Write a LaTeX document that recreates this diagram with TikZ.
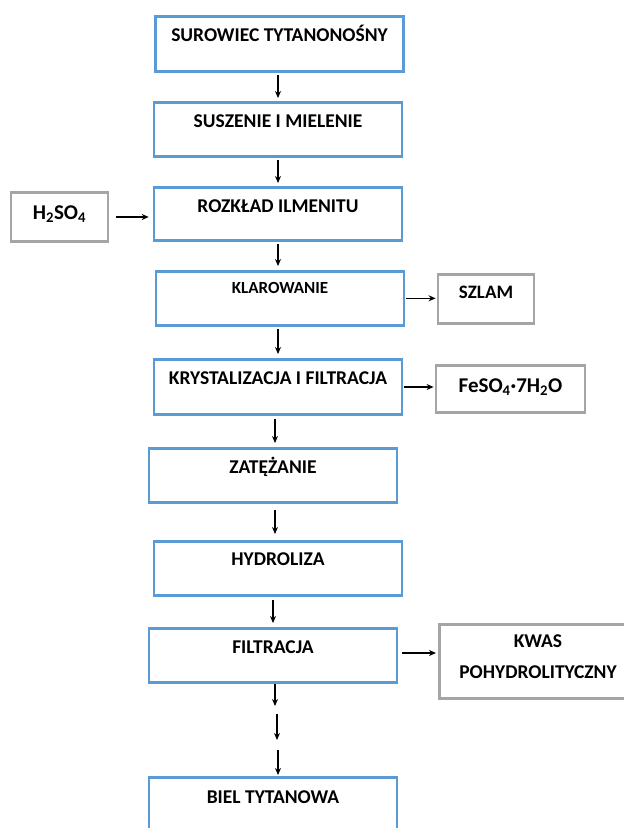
\documentclass[tikz,border=0pt]{standalone}
\usepackage{fontspec}
\setmainfont{Carlito}
\usetikzlibrary{arrows.meta}
\definecolor{boxblue}{RGB}{91,155,213}
\definecolor{boxgray}{RGB}{165,165,165}
\begin{document}
\begin{tikzpicture}[x=1pt,y=-1pt,
  proc/.style={draw=boxblue, line width=2.6pt, inner sep=0pt, align=center,
    minimum width=248pt, font=\fontsize{19.5}{21}\selectfont\bfseries},
  side/.style={draw=boxgray, line width=2.8pt, inner sep=0pt, align=center,
    font=\fontsize{19}{20}\selectfont\bfseries},
  arr/.style={-{Stealth[length=7pt,width=6pt]}, line width=1.6pt, black}]
\clip (0,0) rectangle (624,828);
\fill[white] (0,0) rectangle (624,828);
% process boxes: centre x, top y; text height/depth set baseline
\node[proc, text height=25pt, text depth=30pt, anchor=north] (b1) at (279.5,15) {SUROWIEC TYTANONOŚNY};
\node[proc, text height=25pt, text depth=29pt, anchor=north] (b2) at (278,101) {SUSZENIE I MIELENIE};
\node[proc, text height=25pt, text depth=28pt, anchor=north] (b3) at (278,186) {ROZKŁAD ILMENITU};
\node[proc, text height=22pt, text depth=32pt, anchor=north, font=\fontsize{17}{18}\selectfont\bfseries] (b4) at (280,270) {KLAROWANIE};
\node[proc, text height=25pt, text depth=30pt, anchor=north] (b5) at (278,358) {KRYSTALIZACJA I FILTRACJA};
\node[proc, text height=25pt, text depth=29pt, anchor=north] (b6) at (273,447) {ZATĘŻANIE};
\node[proc, text height=24pt, text depth=30pt, anchor=north] (b7) at (278,540) {HYDROLIZA};
\node[proc, text height=25pt, text depth=29pt, anchor=north] (b8) at (273,627) {FILTRACJA};
\node[proc, text height=26pt, text depth=33pt, anchor=north] (b9) at (273,776) {BIEL TYTANOWA};
% side boxes
\node[side, minimum width=97pt, text height=27pt, text depth=22pt, anchor=north, font=\fontsize{21}{22}\selectfont\bfseries] (h2) at (59.5,191) {H\textsubscript{2}SO\textsubscript{4}};
\node[side, minimum width=96pt, text height=24pt, text depth=25pt, anchor=north] (sz) at (486,273) {SZLAM};
\node[side, minimum width=149pt, text height=27pt, text depth=20pt, anchor=north, font=\fontsize{21}{22}\selectfont\bfseries] (fe) at (510.5,364) {FeSO\textsubscript{4}·7H\textsubscript{2}O};
\node[side, minimum width=200pt, minimum height=74pt, anchor=north west] (kw) at (438,623) {};
\node[font=\fontsize{19.5}{31}\selectfont\bfseries, align=center, anchor=base, inner sep=0pt] (kwt) at (538,678) {KWAS\\POHYDROLITYCZNY};
% arrow x positions
\coordinate (x1) at (278,0);
\coordinate (x5) at (275,0);
\coordinate (x6) at (275,0);
\coordinate (x7) at (273,0);
\coordinate (x8) at (275,0);
\coordinate (m1) at (275,706);
\coordinate (m2s) at (277,714);
\coordinate (m2e) at (277,740);
\coordinate (m3s) at (278,750);
\draw[arr, shorten <=2pt, shorten >=3pt] (b1.south -| x1) -- (b2.north -| x1);
\draw[arr, shorten <=2pt, shorten >=3pt] (b2.south -| x1) -- (b3.north -| x1);
\draw[arr, shorten <=2pt, shorten >=4pt] (b3.south -| x1) -- (b4.north -| x1);
\draw[arr, shorten <=2pt, shorten >=4pt] (b4.south -| x1) -- (b5.north -| x1);
\draw[arr, shorten <=3pt, shorten >=4pt] (b5.south -| x5) -- (b6.north -| x5);
\draw[arr, shorten <=6pt, shorten >=6pt] (b6.south -| x6) -- (b7.north -| x6);
\draw[arr, shorten <=3pt, shorten >=4pt] (b7.south -| x7) -- (b8.north -| x7);
\draw[arr, shorten <=0pt] (b8.south -| x8) -- (m1);
\draw[arr] (m2s) -- (m2e);
\draw[arr, shorten >=1pt] (m3s) -- (b9.north -| m3s);
% side arrows
\coordinate (yh) at (0,217);
\coordinate (yf) at (0,387);
\coordinate (yk) at (0,653);
\draw[arr, shorten <=7pt, shorten >=4pt] (h2.east |- yh) -- (b3.west |- yh);
\draw[arr, shorten <=1pt, shorten >=1pt] (b4.east) -- (sz.west |- b4.east);
\draw[arr, shorten <=1pt, shorten >=1pt] (b5.east |- yf) -- (fe.west |- yf);
\draw[arr, shorten <=4pt, shorten >=2pt] (b8.east |- yk) -- (kw.west |- yk);
\end{tikzpicture}
\end{document}
